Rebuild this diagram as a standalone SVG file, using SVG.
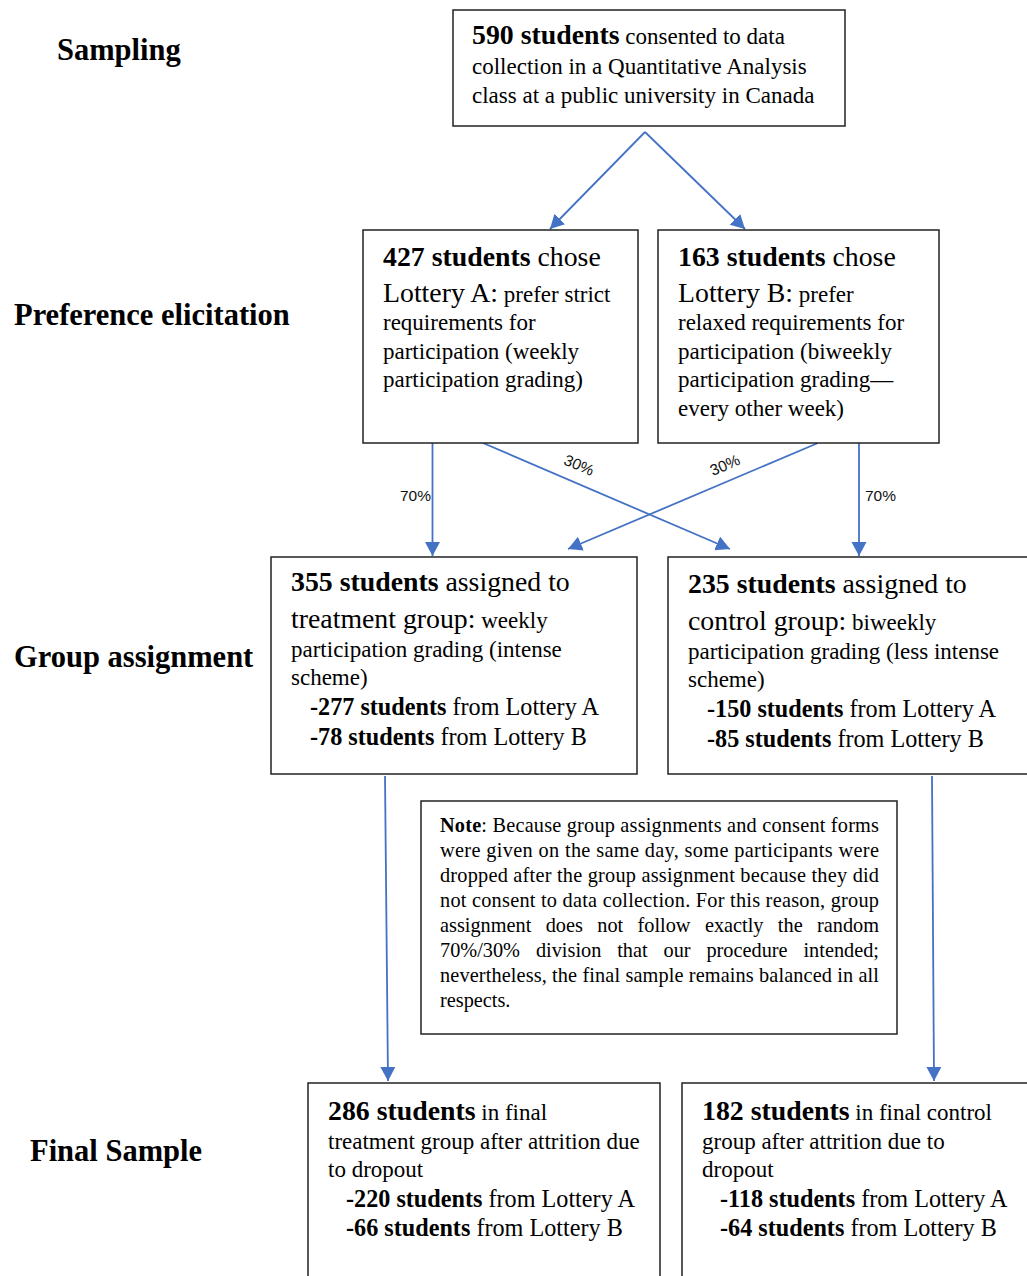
<svg xmlns="http://www.w3.org/2000/svg" width="1027" height="1276" viewBox="0 0 1027 1276">
<style>
text{font-family:"Liberation Serif","Times New Roman",serif;fill:#000;}
.lbl{font-weight:bold;font-size:30.5px;}
.h{font-size:27.8px;}
.b{font-weight:bold;}
.s{font-size:23px;}
.m{font-size:24.2px;}
.note{font-size:20.3px;}
.pct{font-family:"Liberation Sans",Arial,sans-serif;font-size:15.5px;fill:#111;}
.box{fill:#fff;stroke:#222;stroke-width:1.5;}
.con{stroke:#4472C4;stroke-width:1.8;fill:none;marker-end:url(#ah);}
</style>
<defs>
<marker id="ah" markerUnits="userSpaceOnUse" markerWidth="16" markerHeight="16" refX="14" refY="7.5" orient="auto">
<path d="M0,0 L14,7.5 L0,15 z" fill="#4472C4"/>
</marker>
</defs>
<rect width="1027" height="1276" fill="#fff"/>

<g id="stage-labels">
<text class="lbl" x="57" y="60">Sampling</text>
<text class="lbl" x="14" y="325">Preference elicitation</text>
<text class="lbl" x="14" y="667">Group assignment</text>
<text class="lbl" x="30" y="1161">Final Sample</text>
</g>

<g id="connectors">
<line class="con" x1="645" y1="132" x2="550" y2="229"/>
<line class="con" x1="645" y1="132" x2="745" y2="229"/>
<line class="con" x1="432.5" y1="443" x2="432.5" y2="556"/>
<line class="con" x1="483" y1="443" x2="730" y2="549"/>
<line class="con" x1="818" y1="443" x2="568" y2="549"/>
<line class="con" x1="859" y1="443" x2="859" y2="556"/>
<line class="con" x1="385" y1="776" x2="388" y2="1081"/>
<line class="con" x1="932" y1="776" x2="934" y2="1081"/>
<text class="pct" x="400" y="501">70%</text>
<text class="pct" x="865" y="501">70%</text>
<text class="pct" text-anchor="middle" transform="translate(577,470) rotate(23)">30%</text>
<text class="pct" text-anchor="middle" transform="translate(727,470) rotate(-23)">30%</text>
</g>

<g id="node-sampling">
<rect class="box" x="453" y="10" width="392" height="116"/>
<text x="472" y="44"><tspan class="b h">590 students</tspan><tspan class="s"> consented to data</tspan></text>
<text class="s" x="472" y="74">collection in a Quantitative Analysis</text>
<text class="s" x="472" y="102.5">class at a public university in Canada</text>
</g>

<g id="node-lottery-a">
<rect class="box" x="363" y="230" width="275" height="213"/>
<text x="383" y="265.5"><tspan class="b h">427 students</tspan><tspan class="h"> chose</tspan></text>
<text x="383" y="301.5"><tspan class="h">Lottery A:</tspan><tspan class="s"> prefer strict</tspan></text>
<text class="s" x="383" y="330">requirements for</text>
<text class="s" x="383" y="358.5">participation (weekly</text>
<text class="s" x="383" y="387">participation grading)</text>
</g>

<g id="node-lottery-b">
<rect class="box" x="658" y="230" width="281" height="213"/>
<text x="678" y="265.5"><tspan class="b h">163 students</tspan><tspan class="h"> chose</tspan></text>
<text x="678" y="301.5"><tspan class="h">Lottery B:</tspan><tspan class="s"> prefer</tspan></text>
<text class="s" x="678" y="330">relaxed requirements for</text>
<text class="s" x="678" y="358.5">participation (biweekly</text>
<text class="s" x="678" y="387">participation grading—</text>
<text class="s" x="678" y="415.5">every other week)</text>
</g>

<g id="node-treatment">
<rect class="box" x="271" y="557" width="366" height="217"/>
<text x="291" y="591"><tspan class="b h">355 students</tspan><tspan class="h"> assigned to</tspan></text>
<text x="291" y="627.5"><tspan class="h">treatment group:</tspan><tspan class="s"> weekly</tspan></text>
<text class="s" x="291" y="656.5">participation grading (intense</text>
<text class="s" x="291" y="684.5">scheme)</text>
<text class="m" x="310" y="714.5"><tspan class="b">-277 students</tspan> from Lottery A</text>
<text class="m" x="310" y="744.5"><tspan class="b">-78 students</tspan> from Lottery B</text>
</g>

<g id="node-control">
<rect class="box" x="668" y="557" width="370" height="217"/>
<text x="688" y="593"><tspan class="b h">235 students</tspan><tspan class="h"> assigned to</tspan></text>
<text x="688" y="629.5"><tspan class="h">control group:</tspan><tspan class="s"> biweekly</tspan></text>
<text class="s" x="688" y="658.5">participation grading (less intense</text>
<text class="s" x="688" y="686.5">scheme)</text>
<text class="m" x="707" y="716.5"><tspan class="b">-150 students</tspan> from Lottery A</text>
<text class="m" x="707" y="746.5"><tspan class="b">-85 students</tspan> from Lottery B</text>
</g>

<g id="node-note">
<rect class="box" x="421" y="801" width="476" height="233"/>
<text class="note" x="440" y="831.5" textLength="439" lengthAdjust="spacing"><tspan class="b">Note</tspan>: Because group assignments and consent forms</text>
<text class="note" x="440" y="856.5" textLength="439" lengthAdjust="spacing">were given on the same day, some participants were</text>
<text class="note" x="440" y="881.5" textLength="439" lengthAdjust="spacing">dropped after the group assignment because they did</text>
<text class="note" x="440" y="906.5" textLength="439" lengthAdjust="spacing">not consent to data collection. For this reason, group</text>
<text class="note" x="440" y="931.5" word-spacing="9.3" textLength="439" lengthAdjust="spacing">assignment does not follow exactly the random</text>
<text class="note" x="440" y="956.5" word-spacing="10.8" textLength="439" lengthAdjust="spacing">70%/30% division that our procedure intended;</text>
<text class="note" x="440" y="981.5" textLength="439" lengthAdjust="spacing">nevertheless, the final sample remains balanced in all</text>
<text class="note" x="440" y="1006.5">respects.</text>
</g>

<g id="node-final-treatment">
<rect class="box" x="308" y="1083" width="352" height="220"/>
<text x="328" y="1120"><tspan class="b h">286 students</tspan><tspan class="s"> in final</tspan></text>
<text class="s" x="328" y="1149">treatment group after attrition due</text>
<text class="s" x="328" y="1177">to dropout</text>
<text class="m" x="346" y="1207"><tspan class="b">-220 students</tspan> from Lottery A</text>
<text class="m" x="346" y="1236"><tspan class="b">-66 students</tspan> from Lottery B</text>
</g>

<g id="node-final-control">
<rect class="box" x="682" y="1083" width="356" height="220"/>
<text x="702" y="1120"><tspan class="b h">182 students</tspan><tspan class="s"> in final control</tspan></text>
<text class="s" x="702" y="1149">group after attrition due to</text>
<text class="s" x="702" y="1177">dropout</text>
<text class="m" x="720" y="1207"><tspan class="b">-118 students</tspan> from Lottery A</text>
<text class="m" x="720" y="1236"><tspan class="b">-64 students</tspan> from Lottery B</text>
</g>
</svg>
